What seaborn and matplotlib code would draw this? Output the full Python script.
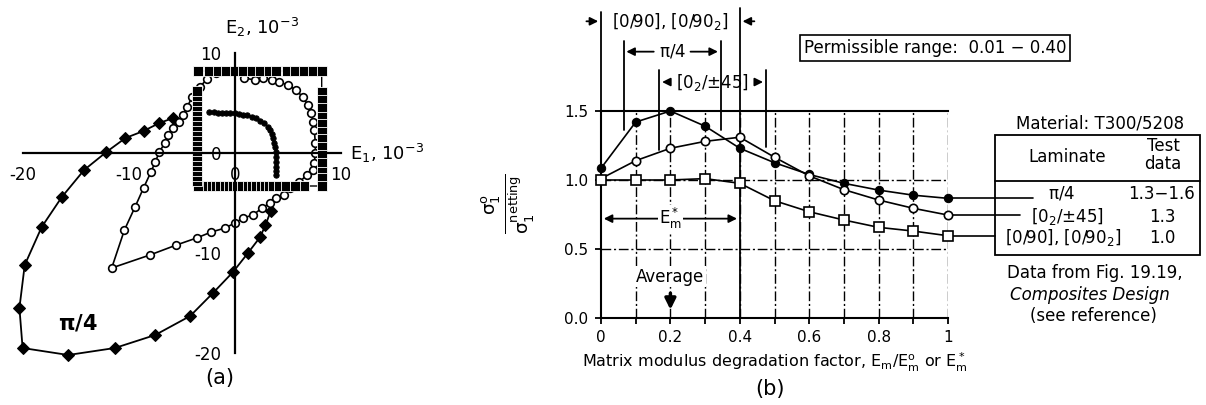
import numpy as np
import pandas as pd
import matplotlib
matplotlib.use('Agg')
import matplotlib.pyplot as plt
import seaborn as sns
from matplotlib.patches import Rectangle
from matplotlib.lines import Line2D

# ---------------- (a) failure envelopes, strains in 10^-3 ----------------
pi4_e1 = [-5.8, -7.1, -8.6, -10.3, -12.1, -14.2, -16.3, -18.2, -19.8, -20.3, -20.0,
          -15.7, -11.3, -7.5, -4.2, -2.05, -0.16, 1.25, 2.4, 2.9, 3.4]
pi4_e2 = [3.5, 3.0, 2.2, 1.5, 0.1, -1.7, -4.4, -7.4, -11.2, -15.5, -19.5,
          -20.2, -19.5, -18.2, -16.3, -14.0, -11.9, -10.0, -8.4, -7.2, -5.8]

q45_e1 = [0.9, 1.9, 2.7, 3.5, 4.2, 5.0, 5.8, 6.4, 6.9, 7.2, 7.4, 7.5, 7.6, 7.6, 7.5, 7.4,
          6.8, 6.1, 5.2, 4.6, 3.9, 3.3, 2.6, 1.7, 0.8, 0.0, -0.9, -2.2, -3.6, -5.5,
          -8.0, -11.6, -10.4, -9.4, -8.6, -7.9, -7.5, -7.1, -6.6, -6.3, -5.8, -5.3,
          -4.9, -4.5, -4.0, -3.3, -2.6, -1.8]
q45_e2 = [7.5, 7.3, 7.5, 7.3, 7.1, 6.8, 6.3, 5.6, 4.8, 4.0, 3.1, 2.3, 1.0, 0.0, -1.0, -1.7,
          -2.2, -2.9, -3.5, -4.2, -4.5, -5.0, -5.5, -6.2, -6.5, -7.0, -7.5, -7.9, -8.5, -9.2,
          -10.2, -11.5, -7.7, -5.4, -3.5, -1.9, -0.9, 0.1, 1.0, 1.8, 2.5, 3.1,
          3.8, 4.6, 5.6, 6.6, 7.4, 8.0]

# [0/90] square envelope: top, right, bottom, left
sq_e1 = ([-3.5, -2.4, -1.6, -0.8, 0.0, 0.8, 1.6, 2.4, 3.2, 3.9, 4.9, 5.7, 6.5, 7.4, 8.2]
         + [8.2] * 13
         + [6.5, 5.7, 4.7, 3.9, 3.2, 2.7, 2.3, 1.9, 1.5, 1.1, 0.7, 0.3, -0.3, -0.7, -1.1,
            -1.5, -1.9, -2.3, -2.7, -3.1, -3.5]
         + [-3.55] * 19)
sq_e2 = ([8.2] * 15
         + [6.1, 5.3, 4.5, 3.6, 2.9, 2.1, 1.4, 0.6, -0.2, -1.0, -1.9, -2.5, -3.3]
         + [-3.3] * 21
         + [-2.8, -2.3, -1.8, -1.3, -0.8, -0.3, 0.2, 0.7, 1.2, 1.7, 2.2, 2.7, 3.2, 3.7,
            4.2, 4.7, 5.2, 5.7, 6.2])

inner_e1 = [-2.4, -2.0, -1.6, -1.2, -0.8, -0.4, 0.0, 0.4, 0.8, 1.2, 1.6, 2.0, 2.4, 2.8,
            3.1, 3.3, 3.5, 3.6, 3.7, 3.8, 3.85, 3.9, 3.9, 3.9, 3.9, 3.9]
inner_e2 = [4.1, 4.1, 4.05, 4.0, 4.0, 4.0, 4.0, 3.95, 3.85, 3.8, 3.65, 3.5, 3.25, 3.0,
            2.65, 2.3, 1.9, 1.5, 1.05, 0.6, 0.1, -0.4, -0.9, -1.4, -1.8, -2.2]

# ---------------- (b) strength ratio vs matrix degradation ----------------
deg_factor = [0.0, 0.1, 0.2, 0.3, 0.4, 0.5, 0.6, 0.7, 0.8, 0.9, 1.0]
ratio_pi4 = [1.085, 1.42, 1.5, 1.39, 1.23, 1.125, 1.04, 0.976, 0.927, 0.89, 0.867]
ratio_0245 = [1.01, 1.14, 1.23, 1.28, 1.31, 1.165, 1.03, 0.93, 0.855, 0.795, 0.746]
ratio_090 = [1.0, 1.0, 1.0, 1.01, 0.976, 0.85, 0.77, 0.71, 0.657, 0.63, 0.596]
x_ticklabels = ['0', '0.2', '0.4', '0.6', '0.8', '1']
laminates = ['$\\pi$/4', '[0$_2$/±45]', '[0/90], [0/90$_2$]']
test_data = ['1.3\u22121.6', '1.3', '1.0']

sns.set_style('white')
plt.rcParams['font.family'] = ['DejaVu Sans']
plt.rcParams['mathtext.fontset'] = 'dejavusans'
plt.rcParams['mathtext.default'] = 'regular'
for k in ['text.color', 'axes.labelcolor', 'xtick.color', 'ytick.color']:
    plt.rcParams[k] = 'black'

W, H = 1206, 405
fig = plt.figure(figsize=(W / 100, H / 100), dpi=100)


def px(x, y):
    return x / W, 1 - y / H


# ---------------- panel (a) ----------------
ax = fig.add_axes([12 / W, 1 - 363 / H, 350 / W, 330 / H])
ax.set_xlim(-21, 12)
ax.set_ylim(-21, 12)
for s in ['top', 'right']:
    ax.spines[s].set_visible(False)
for s in ['left', 'bottom']:
    ax.spines[s].set_position(('data', 0))
    ax.spines[s].set_bounds(-20, 10)
    ax.spines[s].set_linewidth(1.6)
    ax.spines[s].set_color('k')
ax.set_xticks([-20, -10, 0, 10])
ax.set_yticks([-20, -10, 0, 10])
ax.set_xticklabels(['-20', '-10', '0', '10'])
ax.set_yticklabels(['-20', '-10', '0', '10'])
ax.tick_params(direction='inout', length=9, width=1.6, labelsize=12, pad=5)

sns.lineplot(x=pi4_e1, y=pi4_e2, sort=False, estimator=None, ax=ax, color='k',
             lw=1.3, marker='D', markersize=6, markerfacecolor='k', markeredgecolor='k')
sns.lineplot(x=q45_e1, y=q45_e2, sort=False, estimator=None, ax=ax, color='k',
             lw=1.2, marker='o', markersize=5.5, markerfacecolor='white',
             markeredgecolor='k', markeredgewidth=1.2)
sns.lineplot(x=sq_e1, y=sq_e2, sort=False, estimator=None, ax=ax, color='k',
             lw=1.0, marker='s', markersize=7, markerfacecolor='k', markeredgecolor='white',
             markeredgewidth=0.6)
sns.lineplot(x=inner_e1, y=inner_e2, sort=False, estimator=None, ax=ax, color='k',
             lw=1.0, marker='o', markersize=3.8, markerfacecolor='k', markeredgecolor='k')

ax.text(10.9, 0, r'E$_1$, 10$^{-3}$', fontsize=13, ha='left', va='center', clip_on=False)
ax.text(2.6, 12.6, r'E$_2$, 10$^{-3}$', fontsize=13, ha='center', va='center', clip_on=False)
ax.text(-14.8, -17.0, r'$\pi$/4', fontsize=15, fontweight='bold', ha='center', va='center')
fig.text(*px(220, 378), '(a)', fontsize=15, ha='center', va='center')

# ---------------- panel (b) ----------------
ax2 = fig.add_axes([601 / W, 1 - 318 / H, 347 / W, 207 / H])
ax2.set_xlim(0, 1)
ax2.set_ylim(0, 1.5)
ax2.spines['right'].set_visible(False)
for s in ['left', 'bottom', 'top']:
    ax2.spines[s].set_linewidth(1.5)
    ax2.spines[s].set_color('k')
ax2.set_xticks(deg_factor[::2])
ax2.set_xticklabels(x_ticklabels)
ax2.set_xticks(deg_factor, minor=True)
ax2.set_yticks([0.0, 0.5, 1.0, 1.5])
ax2.set_yticklabels(['0.0', '0.5', '1.0', '1.5'])
ax2.tick_params(which='both', direction='out', length=4, width=1.3, labelsize=11, pad=5,
                left=True, bottom=True)
for xv in deg_factor[1:]:
    ax2.axvline(xv, color='k', lw=1.0, ls=(0, (7, 2, 1.5, 2)), zorder=0)
for yv in [0.5, 1.0]:
    ax2.axhline(yv, color='k', lw=1.0, ls=(0, (7, 2, 1.5, 2)), zorder=0)

sns.lineplot(x=deg_factor, y=ratio_pi4, ax=ax2, color='k', lw=1.2, marker='o',
             markersize=6, markerfacecolor='k', markeredgecolor='k', clip_on=False, zorder=4)
sns.lineplot(x=deg_factor, y=ratio_0245, ax=ax2, color='k', lw=1.2, marker='o',
             markersize=6, markerfacecolor='white', markeredgecolor='k', markeredgewidth=1.2,
             clip_on=False, zorder=4)
sns.lineplot(x=deg_factor, y=ratio_090, ax=ax2, color='k', lw=1.2, marker='s',
             markersize=6.5, markerfacecolor='white', markeredgecolor='k', markeredgewidth=1.2,
             clip_on=False, zorder=4)

ax2.set_xlabel(r'Matrix modulus degradation factor, E$_m$/E$_m^o$ or E$_m^*$', fontsize=11.5,
               labelpad=4)
ax2.set_ylabel(r'$\frac{\sigma_1^o}{\sigma_1^{netting}}$', fontsize=19, rotation=90)
ax2.yaxis.set_label_coords(-0.185, 0.55)
fig.text(*px(770, 389), '(b)', fontsize=15, ha='center', va='center')

# bracket lines above the plot
kw = dict(color='k', lw=1.3, clip_on=False)
ax2.plot([0.0, 0.0], [1.5, 2.22], **kw)
ax2.plot([0.4, 0.4], [0.0, 2.25], **kw)
ax2.plot([0.065, 0.065], [1.36, 2.01], **kw)
ax2.plot([0.345, 0.345], [1.36, 2.01], **kw)
ax2.plot([0.168, 0.168], [1.22, 1.80], **kw)
ax2.plot([0.475, 0.475], [1.24, 1.80], **kw)
ap = dict(arrowstyle='-|>', color='k', lw=1.3, mutation_scale=12)
ax2.annotate('', xy=(0.0, 2.15), xytext=(-0.05, 2.15), arrowprops=ap, annotation_clip=False)
ax2.annotate('', xy=(0.4, 2.15), xytext=(0.45, 2.15), arrowprops=ap, annotation_clip=False)
ax2.text(0.2, 2.15, '[0/90], [0/90$_2$]', fontsize=12, ha='center', va='center')
ax2.annotate('', xy=(0.065, 1.93), xytext=(0.16, 1.93), arrowprops=ap, annotation_clip=False)
ax2.annotate('', xy=(0.345, 1.93), xytext=(0.25, 1.93), arrowprops=ap, annotation_clip=False)
ax2.text(0.205, 1.93, r'$\pi$/4', fontsize=12, ha='center', va='center')
ax2.annotate('', xy=(0.168, 1.71), xytext=(0.2, 1.71), arrowprops=ap, annotation_clip=False)
ax2.annotate('', xy=(0.475, 1.71), xytext=(0.442, 1.71), arrowprops=ap, annotation_clip=False)
ax2.text(0.321, 1.71, '[0$_2$/±45]', fontsize=12, ha='center', va='center')

# E_m* span and average marker
ax2.annotate('', xy=(0.0, 0.72), xytext=(0.4, 0.72),
             arrowprops=dict(arrowstyle='<|-|>', color='k', lw=1.3, mutation_scale=12))
ax2.text(0.2, 0.72, r'E$_m^*$', fontsize=12, ha='center', va='center',
         bbox=dict(fc='white', ec='none', pad=1))
ax2.text(0.2, 0.3, 'Average', fontsize=12, ha='center', va='center',
         bbox=dict(fc='white', ec='none', pad=1))
ax2.annotate('', xy=(0.2, 0.04), xytext=(0.2, 0.2),
             arrowprops=dict(arrowstyle='-|>', color='k', lw=2.5, mutation_scale=16))

fig.text(*px(935, 48), 'Permissible range:  0.01 \u2212 0.40', fontsize=12, ha='center',
         va='center', bbox=dict(boxstyle='square,pad=0.25', fc='white', ec='k', lw=1.2))

# legend table at right
ends = [1.245, 1.207, 1.135]
for yv, xe in zip([ratio_pi4[-1], ratio_0245[-1], ratio_090[-1]], ends):
    ax2.plot([1.0, xe], [yv, yv], color='k', lw=1.2, clip_on=False, zorder=3)

x0, y0 = px(995, 255)
x1, y1 = px(1200, 135)
fig.add_artist(Rectangle((x0, y0), x1 - x0, y1 - y0, transform=fig.transFigure,
                         fill=False, ec='k', lw=1.3))
fig.add_artist(Line2D([x0, x1], [px(0, 181)[1]] * 2, transform=fig.transFigure, color='k', lw=1.3))
fig.text(*px(1100, 123), 'Material: T300/5208', fontsize=12, ha='center', va='center')
fig.text(*px(1067, 157), 'Laminate', fontsize=12, ha='center', va='center')
fig.text(*px(1163, 155), 'Test\ndata', fontsize=12, ha='center', va='center', linespacing=0.95)
row_y = [194, 217, 238]
lam_x = [1062, 1067, 1063]
for lab, td, ry, lx in zip(laminates, test_data, row_y, lam_x):
    fig.text(*px(lx, ry), lab, fontsize=12, ha='center', va='center')
    fig.text(*px(1162, ry), td, fontsize=12, ha='center', va='center')

fig.text(*px(1095, 273), 'Data from Fig. 19.19,', fontsize=12, ha='center', va='center')
fig.text(*px(1090, 295), 'Composites Design', fontsize=12, style='italic', ha='center', va='center')
fig.text(*px(1093, 316), '(see reference)', fontsize=12, ha='center', va='center')

fig.savefig('out.png', dpi=100)
